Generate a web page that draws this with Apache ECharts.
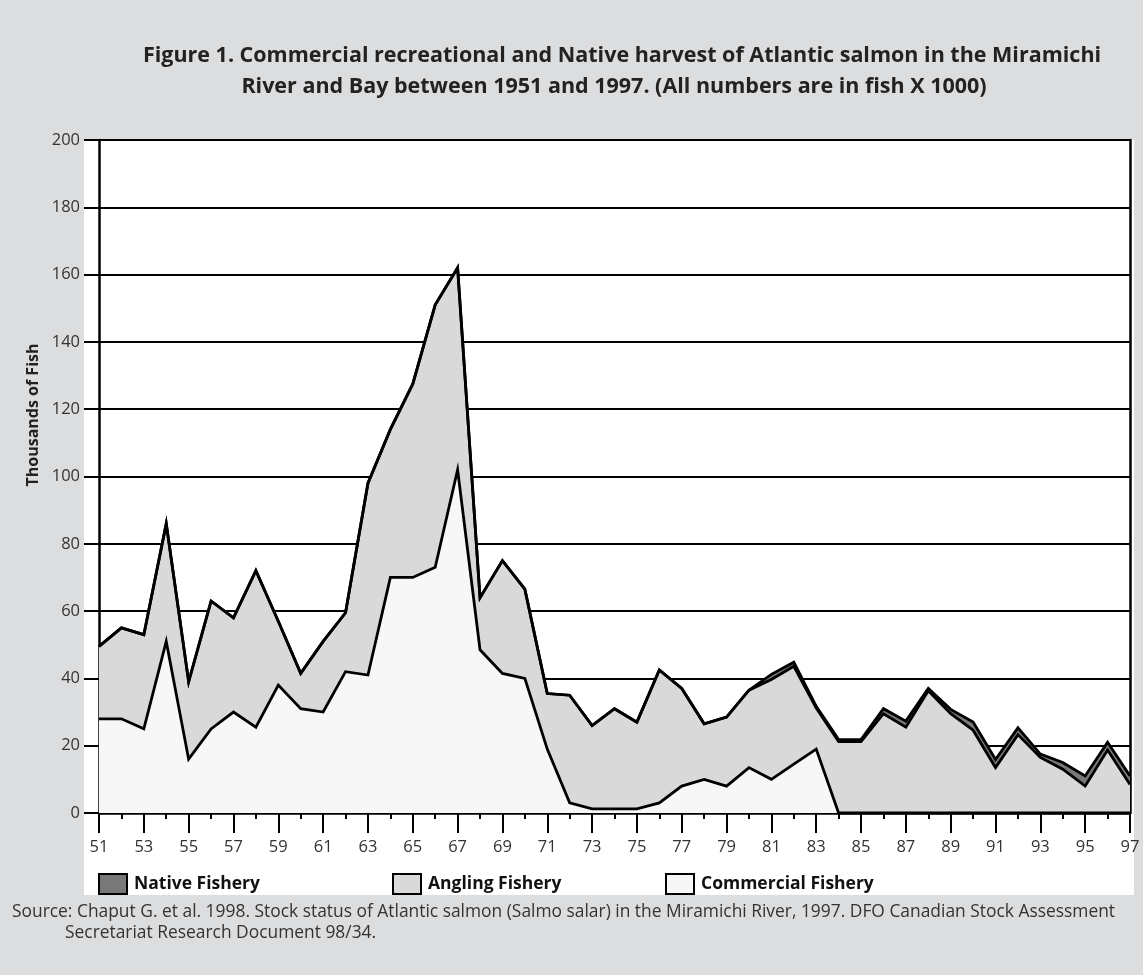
<!DOCTYPE html>
<html>
<head>
<meta charset="utf-8">
<script src="https://cdn.jsdelivr.net/npm/echarts@6/dist/echarts.min.js"></script>
<style>
html,body{margin:0;padding:0;background:#dcdddf;}
#chart{width:1143px;height:975px;}
</style>
</head>
<body>
<div id="chart"></div>
<script>
var years = ['51','52','53','54','55','56','57','58','59','60','61','62','63','64','65','66','67','68','69','70','71','72','73','74','75','76','77','78','79','80','81','82','83','84','85','86','87','88','89','90','91','92','93','94','95','96','97'];
var commercial = [28,28,25,51,16,25,30,25.5,38,31,30,42,41,70,70,73,102,48.5,41.5,40,19,3,1.2,1.2,1.2,3,8,10,8,13.5,10,14.5,19,0,0,0,0,0,0,0,0,0,0,0,0,0,0];
var angling = [21.5,27,28,35,23,38,28,46.5,19,10.5,21,17.5,57,44,57.5,78,60,15.5,33.5,26.5,16.5,32,24.8,29.8,25.8,39.5,29,16.5,20.5,23,29.7,29.1,12.2,21.2,21.2,29.5,25.5,36.3,29.5,24.6,13.5,23.3,16.5,13,8,18.7,8.5];
var native = [0,0,0,0,0,0,0,0,0,0,0,0,0,0,0,0,0,0,0,0,0,0,0,0,0,0,0,0,0,0,1.5,1.2,0.5,0.6,0.6,1.5,1.8,0.7,1.3,2.4,2.4,2,1,2,3,2.3,2.5];
var yTicks = [0,20,40,60,80,100,120,140,160,180,200];

var titleLines = ['Figure 1. Commercial recreational and Native harvest of Atlantic salmon in the Miramichi','River and Bay between 1951 and 1997. (All numbers are in fish X 1000)'];
var sourceLines = ['Source: Chaput G. et al. 1998. Stock status of Atlantic salmon (Salmo salar) in the Miramichi River, 1997. DFO Canadian Stock Assessment','Secretariat Research Document 98/34.'];
var names = ['Native Fishery','Angling Fishery','Commercial Fishery'];
var fills = {'Native Fishery':'#787878','Angling Fishery':'#d9d9d9','Commercial Fishery':'#f7f7f7'};

var FONT = '"Open Sans", "Noto Sans", sans-serif';
var NARROW = '"Liberation Sans Narrow", "Open Sans", sans-serif';

var chart = echarts.init(document.getElementById('chart'));

function mkSeries(name, data){
  return {
    name: name, type: 'line', stack: 'total', data: data,
    xAxisIndex: 0, yAxisIndex: 0,
    showSymbol: false, symbol: 'none',
    lineStyle: {color: '#000', width: 2.8, join: 'miter'},
    areaStyle: {color: fills[name], opacity: 1},
    itemStyle: {color: fills[name], borderColor: '#000', borderWidth: 2},
    emphasis: {disabled: true},
    animation: false
  };
}

function mkLegend(name, left){
  return {
    left: left, top: 873, padding: 0, itemWidth: 28, itemHeight: 20, itemGap: 10,
    icon: 'rect',
    data: [{name: name, icon: 'rect', itemStyle: {color: fills[name], borderColor: '#000', borderWidth: 2}}],
    textStyle: {fontFamily: FONT, fontWeight: 'bold', fontSize: 17.5, color: '#111', padding: [name === 'Commercial Fishery' ? 8 : 3, 0, 0, 2]},
    selectedMode: false
  };
}

var option = {
  backgroundColor: '#dcdddf',
  animation: false,
  graphic: {
    elements: [
      {type: 'rect', z: -10, silent: true, shape: {x: 84, y: 140, width: 1050, height: 755}, style: {fill: '#ffffff'}},
      {type: 'text', x: 622, y: 56, silent: true, style: {text: titleLines[0], fontFamily: FONT, fontWeight: 'bold', fontSize: 21.5, fill: '#222', align: 'center', verticalAlign: 'middle'}},
      {type: 'text', x: 614, y: 87, silent: true, style: {text: titleLines[1], fontFamily: FONT, fontWeight: 'bold', fontSize: 21.5, fill: '#222', align: 'center', verticalAlign: 'middle'}},
      {type: 'text', x: 33, y: 415, rotation: Math.PI/2, silent: true, style: {text: 'Thousands of Fish', fontFamily: FONT, fontWeight: 'bold', fontSize: 16, fill: '#222', align: 'center', verticalAlign: 'middle'}},
      {type: 'text', x: 12, y: 912, silent: true, style: {text: sourceLines[0], fontFamily: FONT, fontSize: 17.4, fill: '#333', align: 'left', verticalAlign: 'middle'}},
      {type: 'text', x: 65, y: 933, silent: true, style: {text: sourceLines[1], fontFamily: FONT, fontSize: 17.4, fill: '#333', align: 'left', verticalAlign: 'middle'}}
    ]
  },
  legend: [mkLegend(names[0], 98), mkLegend(names[1], 392), mkLegend(names[2], 665)],
  grid: {left: 99, right: 13, top: 140, bottom: 162, containLabel: false},
  xAxis: [
    {
      type: 'category', data: years, boundaryGap: false,
      axisLine: {show: true, onZero: false, lineStyle: {color: '#000', width: 2.5}},
      axisTick: {show: true, inside: false, interval: 1, length: 20, lineStyle: {color: '#000', width: 2}},
      axisLabel: {interval: 1, margin: 26, color: '#333', fontFamily: NARROW, fontSize: 16.5},
      splitLine: {show: false}
    },
    {
      type: 'category', data: years, boundaryGap: false, position: 'bottom',
      axisLine: {show: false, onZero: false},
      axisTick: {show: true, inside: false, interval: 0, length: 6, lineStyle: {color: '#000', width: 2}},
      axisLabel: {show: false},
      splitLine: {show: false}
    },
    {
      type: 'value', min: 0, max: 46, interval: 2, position: 'bottom',
      axisLine: {show: false, onZero: false},
      axisTick: {show: true, inside: false, length: 20, lineStyle: {color: '#000', width: 2}},
      minorTick: {show: true, splitNumber: 2, length: 6, lineStyle: {color: '#000', width: 2}},
      axisLabel: {show: false},
      splitLine: {show: false}, minorSplitLine: {show: false}
    }
  ],
  yAxis: [
    {
      type: 'value', min: yTicks[0], max: yTicks[yTicks.length-1], interval: 20,
      axisLine: {show: true, onZero: false, lineStyle: {color: '#000', width: 2.5}},
      axisTick: {show: true, inside: false, length: 15, lineStyle: {color: '#000', width: 2}},
      axisLabel: {margin: 19, color: '#333', fontFamily: NARROW, fontSize: 16.5},
      splitLine: {show: true, lineStyle: {color: '#000', width: 2}}
    },
    {
      type: 'value', min: 0, max: 200, position: 'right',
      axisLine: {show: true, onZero: false, lineStyle: {color: '#000', width: 2.5}},
      axisTick: {show: false}, axisLabel: {show: false}, splitLine: {show: false}
    }
  ],
  series: [
    mkSeries('Commercial Fishery', commercial),
    mkSeries('Angling Fishery', angling),
    mkSeries('Native Fishery', native)
  ]
};
chart.setOption(option);
</script>
</body>
</html>
